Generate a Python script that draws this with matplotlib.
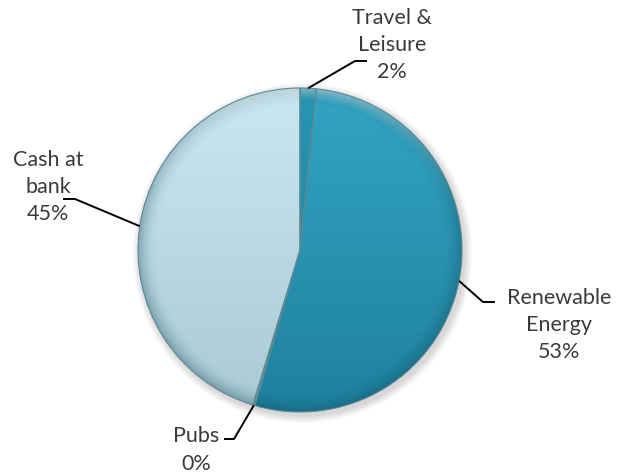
import numpy as np
import matplotlib
matplotlib.use("Agg")
import matplotlib.pyplot as plt
from matplotlib.colors import LinearSegmentedColormap, to_rgb
from matplotlib.patches import Circle

# Portfolio allocation, clockwise from 12 o'clock
labels = ["Travel &\nLeisure", "Renewable\nEnergy", "Pubs", "Cash at\nbank"]
shares = [1.6, 52.9, 0.2, 45.3]

# Top / bottom colours of each wedge's shading
top_colors = ["#2696B4", "#33A5C3", "#8FB4BF", "#C9E8F3"]
bottom_colors = ["#1B7F9C", "#1E819E", "#7FA3AE", "#A9C9D3"]

W, H, DPI = 630, 473, 100
fig = plt.figure(figsize=(W / DPI, H / DPI), dpi=DPI)
ax = fig.add_axes([0, 0, 1, 1])

# pixel frame: pie centred at (300, 250) with a 162 px radius
cx, cy, R = 300, 250, 162

wedges, _ = ax.pie(shares, startangle=90, counterclock=False, radius=1.0,
                   colors=top_colors,
                   wedgeprops=dict(edgecolor="#5E8894", linewidth=0.8))
ax.set_aspect("auto")
ax.axis("off")

# soft drop shadow
for k in range(8):
    ax.add_patch(Circle((0.015, -0.02), 1.0 + 0.006 * (8 - k), color="black",
                        alpha=0.018, lw=0, zorder=0))

# vertical gradient inside each wedge (top colour at the top)
ext = [-1.02, 1.02, -1.02, 1.02]
yy = np.linspace(0, 1, 256)[:, None] * np.ones((1, 2))
for w, c0, c1 in zip(wedges, top_colors, bottom_colors):
    cmap = LinearSegmentedColormap.from_list("g", [c0, c1])
    w.set_facecolor("none")
    im = ax.imshow(yy, extent=ext, cmap=cmap, vmin=0, vmax=1, origin="upper",
                   aspect="auto", zorder=1, interpolation="bilinear")
    im.set_clip_path(w)
    w.set_zorder(3)

# darker rim for a bevelled look
n = 400
g = np.linspace(-1.02, 1.02, n)
X, Y = np.meshgrid(g, g)
r = np.hypot(X, Y)
rim = np.clip((r - 0.88) / 0.12, 0, 1) ** 2
rgba = np.zeros((n, n, 4))
rgba[..., :3] = to_rgb("#0B3A48")
rgba[..., 3] = 0.30 * rim
im = ax.imshow(rgba, extent=ext, origin="lower", aspect="auto", zorder=2,
               interpolation="bilinear")
im.set_clip_path(Circle((0, 0), 1.0, transform=ax.transData))

# highlight near the top rim
hl = np.clip((r - 0.92) / 0.08, 0, 1) * np.clip(Y, 0, 1) ** 2
rgba2 = np.zeros((n, n, 4))
rgba2[..., :3] = 1.0
rgba2[..., 3] = 0.45 * hl
im2 = ax.imshow(rgba2, extent=ext, origin="lower", aspect="auto", zorder=2,
                interpolation="bilinear")
im2.set_clip_path(Circle((0, 0), 1.0, transform=ax.transData))

ax.set_xlim(-cx / R, (W - cx) / R)
ax.set_ylim(-(H - cy) / R, cy / R)


def px(x, y):
    return ((x - cx) / R, (cy - y) / R)


# leader lines: from the wedge's mid-angle on the rim to an elbow and a short
# horizontal tail (pixel coords), plus label centres
elbows = [[(355, 61), (367, 61)],
          [(483, 302), (495, 302)],
          [(234, 439), (224, 439)],
          [(75, 199), (63, 199)]]
text_pos = [(392, 45), (559, 325), (196, 450), (48, 187)]

for w, lab, val, el, tp in zip(wedges, labels, shares, elbows, text_pos):
    mid = np.deg2rad(0.5 * (w.theta1 + w.theta2))
    start = (np.cos(mid), np.sin(mid))
    pts = [start] + [px(*p) for p in el]
    xs, ys = zip(*pts)
    ax.plot(xs, ys, color="black", lw=1.4, zorder=5, solid_capstyle="butt")
    ax.text(*px(*tp), f"{lab}\n{val:.0f}%", ha="center", va="center",
            fontsize=15.5, family="Lato", color="#3A3A3A", linespacing=1.45,
            zorder=6)

fig.savefig("out.png", dpi=DPI, facecolor="white")
